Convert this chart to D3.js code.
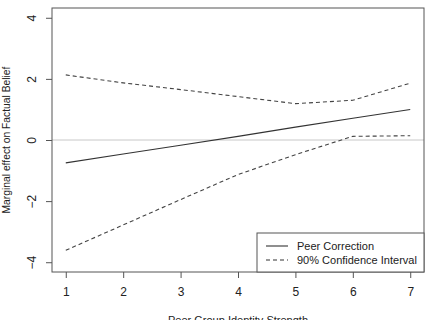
<!DOCTYPE html>
<html>
<head>
<meta charset="utf-8">
<script src="https://cdnjs.cloudflare.com/ajax/libs/d3/7.8.5/d3.min.js"></script>
<style>
  html, body { margin: 0; padding: 0; background: #fff; }
  svg { display: block; font-family: "Liberation Sans", Arial, sans-serif; }
</style>
</head>
<body>
<div id="chart"></div>
<script>
// values
const identityStrength = [1, 2, 3, 4, 5, 6, 7];
const marginalEffect = [-0.75, -0.46, -0.17, 0.12, 0.42, 0.71, 1.00];
const upperCI = [2.13, 1.87, 1.65, 1.42, 1.19, 1.30, 1.86];
const lowerCI = [-3.61, -2.78, -1.95, -1.13, -0.48, 0.12, 0.14];
const xTicks = [1, 2, 3, 4, 5, 6, 7];
const yTicks = [-4, -2, 0, 2, 4];
const legendLabels = ['Peer Correction', '90% Confidence Interval'];

const W = 427, H = 320;
const margin = { top: 8, right: 3, bottom: 48, left: 52 };
const width = W - margin.left - margin.right,
  height = H - margin.top - margin.bottom;

const svg = d3.select('#chart').append('svg')
  .attr('width', W).attr('height', H);

const g = svg.append('g')
  .attr('transform', `translate(${margin.left}, ${margin.top})`);

const x = d3.scaleLinear().domain([0.76, 7.24]).range([0, width]);
const y = d3.scaleLinear().domain([-4.32, 4.32]).range([height, 0]);

// zero reference line
g.append('line')
  .attr('x1', 0).attr('x2', width)
  .attr('y1', y(0)).attr('y2', y(0))
  .attr('stroke', '#c8c8c8').attr('stroke-width', 1);

const line = d3.line()
  .x((d, i) => x(identityStrength[i]))
  .y(d => y(d));

g.append('path').datum(marginalEffect)
  .attr('d', line).attr('fill', 'none')
  .attr('stroke', '#333').attr('stroke-width', 1.1);

[upperCI, lowerCI].forEach(s => {
  g.append('path').datum(s)
    .attr('d', line).attr('fill', 'none')
    .attr('stroke', '#444').attr('stroke-width', 1.1)
    .attr('stroke-dasharray', '4,3');
});

// axes (R style)
const xAxis = g.append('g')
  .attr('transform', `translate(0, ${height})`)
  .call(d3.axisBottom(x).tickValues(xTicks).tickSize(6).tickPadding(9).tickFormat(d3.format('d')));
xAxis.select('.domain').remove();
xAxis.selectAll('line').attr('stroke', '#555');
xAxis.selectAll('text').attr('font-size', 12).attr('fill', '#222');

const yAxis = g.append('g')
  .call(d3.axisLeft(y).tickValues(yTicks).tickSize(6).tickFormat(d3.format('d')));
yAxis.select('.domain').remove();
yAxis.selectAll('line').attr('stroke', '#555');
yAxis.selectAll('text')
  .attr('font-size', 12).attr('fill', '#222')
  .attr('x', null)
  .attr('text-anchor', 'middle')
  .attr('transform', 'translate(-20, 0) rotate(-90)')
  .attr('dy', '0.35em');

// plot frame
g.append('rect')
  .attr('width', width).attr('height', height)
  .attr('fill', 'none').attr('stroke', '#555').attr('stroke-width', 1);

// axis titles
svg.append('text')
  .attr('x', margin.left + width / 2).attr('y', 324)
  .attr('text-anchor', 'middle').attr('font-size', 11).attr('fill', '#222')
  .text('Peer Group Identity Strength');

svg.append('text')
  .attr('transform', `translate(10, ${margin.top + y(0)}) rotate(-90)`)
  .attr('text-anchor', 'middle').attr('font-size', 10.3).attr('fill', '#222')
  .text('Marginal effect on Factual Belief');

// legend
const legend = g.append('g')
  .attr('transform', `translate(${257 - margin.left}, ${233 - margin.top})`);
legend.append('rect')
  .attr('width', width - (257 - margin.left)).attr('height', height - (233 - margin.top))
  .attr('fill', '#fff').attr('stroke', '#555').attr('stroke-width', 1);

legendLabels.forEach((label, i) => {
  const yy = 13 + i * 14;
  legend.append('line')
    .attr('x1', 9).attr('x2', 31).attr('y1', yy).attr('y2', yy)
    .attr('stroke', '#333').attr('stroke-width', 1.1)
    .attr('stroke-dasharray', i ? '4,3' : null);
  legend.append('text')
    .attr('x', 40).attr('y', yy).attr('dy', '0.35em')
    .attr('font-size', 11).attr('fill', '#222')
    .text(label);
});
</script>
</body>
</html>
